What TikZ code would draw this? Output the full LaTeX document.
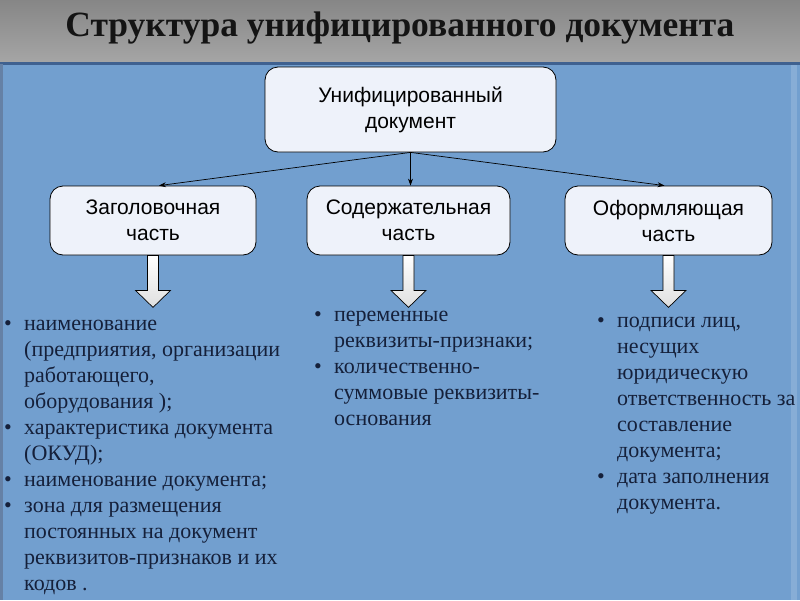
\documentclass[tikz,border=0pt]{standalone}
\usepackage{fontspec}
\setmainfont{Liberation Serif}
\newfontfamily\boxfont{Liberation Sans}
\usetikzlibrary{arrows.meta,calc}
\definecolor{bgblue}{HTML}{729FCF}
\definecolor{titletop}{HTML}{868686}
\definecolor{titlebot}{HTML}{A6A6A6}
\definecolor{boxfill}{HTML}{EEF2FA}
\definecolor{txtnavy}{HTML}{15203A}
\definecolor{sepline}{HTML}{3F6190}
\tikzset{
  partbox/.style={draw=black, line width=0.8pt, rounded corners=13pt, fill=boxfill,
    font=\boxfont\fontsize{21}{26}\selectfont, align=center, inner sep=0pt},
  link/.style={-{Stealth[length=7pt,width=5pt]}, line width=0.7pt, black},
  barrow/.style={draw=black, line width=0.7pt, top color=white, bottom color=gray!25},
  listtext/.style={anchor=north west, align=left, inner sep=0pt, text=txtnavy,
    font=\fontsize{22}{26}\selectfont},
}
\newcommand\blockarr[1]{\draw[barrow] ([xshift=-5.5pt]#1.south) -- ++(0,35) -- ++(-12,0)
  -- ++(17.5,17) -- ++(17.5,-17) -- ++(-12,0) -- ++(0,-35) -- cycle;}
\newcommand\bul{\makebox[20pt][l]{•}}
\newcommand\ind{\hspace*{20pt}}
\begin{document}
\begin{tikzpicture}[x=1pt,y=-1pt]
\useasboundingbox (0,0) rectangle (800,600);
% background
\shade[top color=titletop, bottom color=titlebot] (0,0) rectangle (800,63);
\fill[bgblue] (0,63) rectangle (800,600);
\fill[bgblue!85!white] (791,64) rectangle (797,600);
\fill[sepline] (0,62) rectangle (800,64.5);
\fill[sepline!80] (0,64) rectangle (2.5,600);
\node[font=\bfseries\fontsize{35.5}{38}\selectfont, text=black!92, anchor=base] (title) at (400,36) {Структура унифицированного документа};
% boxes
\node[partbox, minimum width=291pt, minimum height=85pt] (top) at (410.5,109.5) {Унифицированный\\документ};
\node[partbox, minimum width=206pt, minimum height=69pt] (b1) at (153,220.5) {Заголовочная\\часть};
\node[partbox, minimum width=203pt, minimum height=69pt] (b2) at (408.5,220.5) {Содержательная\\часть};
\node[partbox, minimum width=207pt, minimum height=69pt] (b3) at (668.5,220.5) {Оформляющая\\часть};
% connectors
\draw[link] (top.south) -- ([xshift=6pt]b1.north);
\draw[link] (top.south) -- ([xshift=2pt]b2.north);
\draw[link] (top.south) -- ([xshift=-4pt]b3.north);
% block arrows
\blockarr{b1}
\blockarr{b2}
\blockarr{b3}
% lists
\node[listtext] (l1) at (4,320) {\bul наименование\\
\ind(предприятия, организации\\
\ind работающего,\\
\ind оборудования );\\
\bul характеристика документа\\
\ind(ОКУД);\\
\bul наименование документа;\\
\bul зона для размещения\\
\ind постоянных на документ\\
\ind реквизитов-признаков и их\\
\ind кодов .};
\node[listtext] (l2) at (314,311) {\bul переменные\\
\ind реквизиты-признаки;\\
\bul количественно-\\
\ind суммовые реквизиты-\\
\ind основания};
\node[listtext] (l3) at (597,317) {\bul подписи лиц,\\
\ind несущих\\
\ind юридическую\\
\ind ответственность за\\
\ind составление\\
\ind документа;\\
\bul дата заполнения\\
\ind документа.};
\end{tikzpicture}
\end{document}
